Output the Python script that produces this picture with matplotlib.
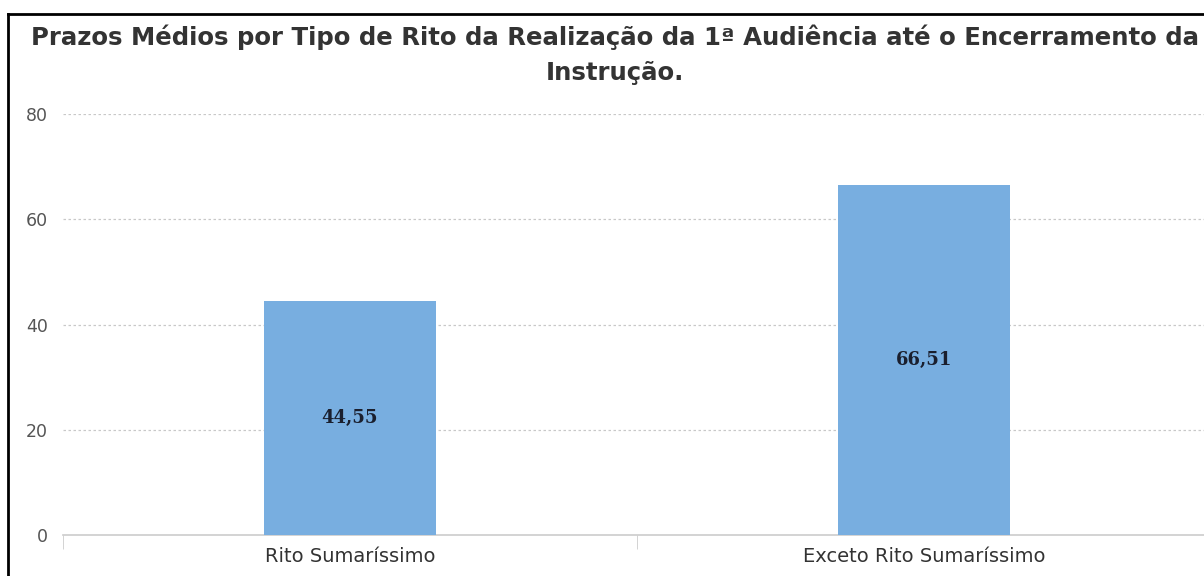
import matplotlib.pyplot as plt
from matplotlib.lines import Line2D

categorias = ["Rito Sumaríssimo", "Exceto Rito Sumaríssimo"]
prazos = [44.55, 66.51]
rotulos = ["44,55", "66,51"]
yticks = [0, 20, 40, 60, 80]

fig = plt.figure(figsize=(12.04, 5.76), dpi=100)
ax = fig.add_axes([63/1204, 41/576, 1148/1204, 421/576])

x = range(len(categorias))
bars = ax.bar(x, prazos, width=0.3, color="#78aee0", zorder=3)
for b, t in zip(bars, rotulos):
    ax.text(b.get_x() + b.get_width()/2, b.get_height()/2, t, ha="center", va="center",
            fontsize=13, fontweight="bold", family="DejaVu Serif", color="#1a1f2e", zorder=4)

ax.set_xlim(-0.5, 1.5)
ax.set_ylim(0, 80)
ax.set_yticks(yticks)
ax.set_yticklabels([str(v) for v in yticks], fontsize=12.5, color="#555555")
ax.set_xticks(list(x))
ax.set_xticklabels(categorias, fontsize=14, color="#333333")
ax.tick_params(axis="x", length=0, pad=9)
ax.tick_params(axis="y", length=0, pad=11)
# divisores entre categorias
ax.set_xticks([-0.5, 0.5, 1.5], minor=True)
ax.tick_params(axis="x", which="minor", length=10, color="#cccccc")

for v in yticks[1:]:
    ax.axhline(v, color="#c8c8c8", linestyle=(0, (2, 2)), linewidth=0.9, zorder=1)
for s in ["top", "right", "left"]:
    ax.spines[s].set_visible(False)
ax.spines["bottom"].set_color("#cccccc")
ax.spines["bottom"].set_linewidth(1.2)

fig.text(615/1204, 1 - 37/576, "Prazos Médios por Tipo de Rito da Realização da 1ª Audiência até o Encerramento da",
         ha="center", va="center", fontsize=17.6, fontweight="bold", color="#333333")
fig.text(615/1204, 1 - 73/576, "Instrução.",
         ha="center", va="center", fontsize=17.6, fontweight="bold", color="#333333")

# moldura recortada
fig.add_artist(Line2D([8/1204, 1.01], [1 - 14/576, 1 - 14/576], color="black", linewidth=2, transform=fig.transFigure))
fig.add_artist(Line2D([8/1204, 8/1204], [1 - 14/576, -0.01], color="black", linewidth=2, transform=fig.transFigure))

fig.savefig("out.png", dpi=100)
